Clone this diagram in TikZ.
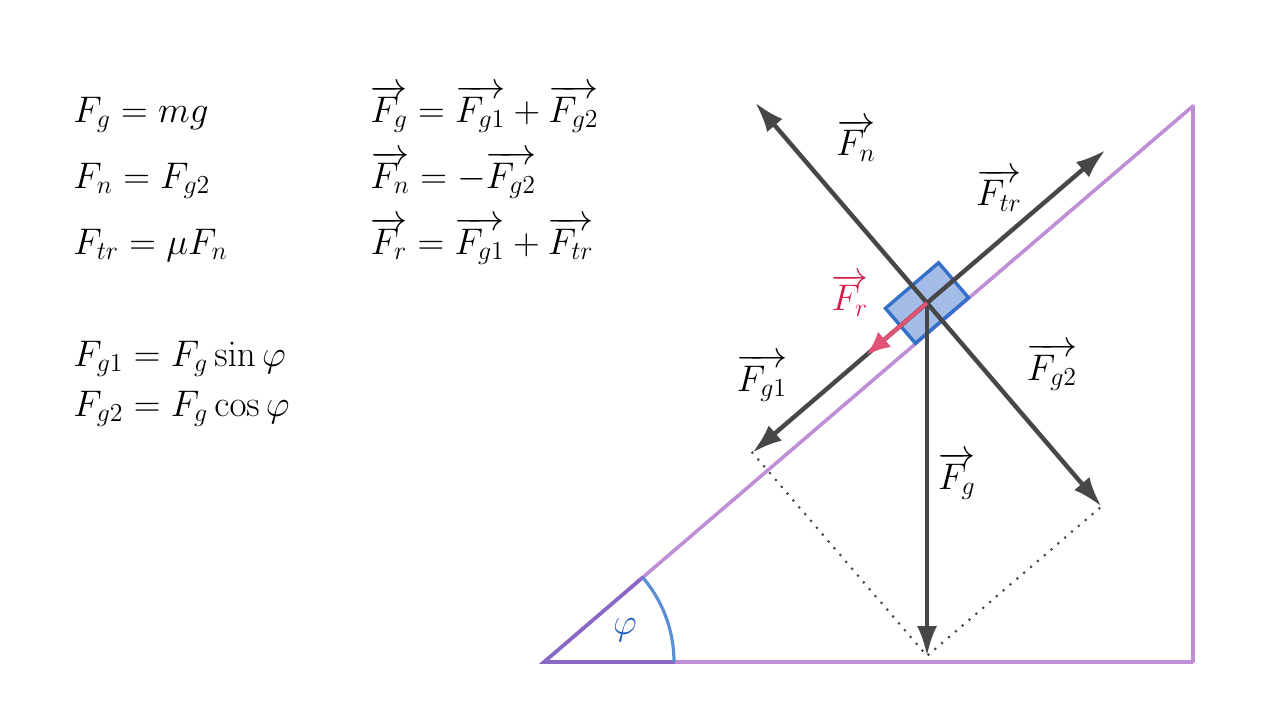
\RequirePackage{fix-cm}
\documentclass[tikz,border=0pt]{standalone}
\usepackage{tikz}
\usetikzlibrary{calc,arrows.meta}

\definecolor{slope}{HTML}{BF8FD6}
\definecolor{slopedark}{HTML}{8A68C6}
\definecolor{forcegray}{HTML}{474747}
\definecolor{boxfill}{HTML}{A3BDE8}
\definecolor{boxline}{HTML}{3570C8}
\definecolor{resultred}{HTML}{E25274}
\definecolor{resulttext}{HTML}{D81B4A}
\definecolor{anglecol}{HTML}{5A8FD6}
\definecolor{phicol}{HTML}{1F5FC0}

\def\ang{40.6}

\tikzset{
	force/.style={line width=2.2pt, color=forcegray, -{Latex[length=15pt,width=10pt]}},
	helper/.style={line width=1.5pt, color=forcegray, dash pattern=on 0pt off 4.5pt, line cap=round},
	incline/.style={line width=1.8pt, color=slope, line cap=round, line join=round},
	eq/.style={font=\fontsize{18.5}{22}\selectfont, inner sep=0pt, anchor=base west},
	lbl/.style={font=\fontsize{18.5}{22}\selectfont, inner sep=0pt}
}

\begin{document}
\begin{tikzpicture}[x=0.5pt, y=0.5pt]
		%%%%% START %%%%%
		
		\useasboundingbox (0, 0) rectangle (1280, 720);
		
		% formulas
		\node[eq] (eqg) at (73, 598) {$F_g = mg$};
		\node[eq] (eqn) at (73, 532) {$F_n = F_{g2}$};
		\node[eq] (eqtr) at (73, 466) {$F_{tr} = \mu F_n$};
		\node[eq] (eqga) at (73, 354) {$F_{g1} = F_g \sin\varphi$};
		\node[eq] (eqgb) at (73, 304) {$F_{g2} = F_g \cos\varphi$};
		
		\node[eq] (vecg) at (370, 598) {$\overrightarrow{F_g} = \overrightarrow{F_{g1}} + \overrightarrow{F_{g2}}$};
		\node[eq] (vecn) at (370, 532) {$\overrightarrow{F_n} = -\overrightarrow{F_{g2}}$};
		\node[eq] (vecr) at (370, 466) {$\overrightarrow{F_r} = \overrightarrow{F_{g1}} + \overrightarrow{F_{tr}}$};
		
		% inclined plane
		\coordinate (A) at (544, 58);
		\coordinate (B) at (1193, 58);
		\coordinate (C) at (1193, 614);
		\draw[incline] (A) -- (B) -- (C) -- cycle;
		
		% angle
		\draw[line width=1.8pt, color=slopedark, line cap=round] ($(A)+(\ang:130)$) -- (A) -- ($(A)+(130, 0)$);
		\draw[line width=1.6pt, color=anglecol] ($(A)+(130, 0)$) arc (0:\ang:130);
		\node[lbl, color=phicol] (phi) at (625, 90) {$\varphi$};
		
		% block
		\coordinate (O) at (927, 417);
		\node[draw=boxline, fill=boxfill, line width=1.7pt, minimum width=35pt, minimum height=23pt, inner sep=0pt, rotate=\ang] (box) at (O) {};
		
		% force tips
		\coordinate (tn) at ($(O)+(\ang+90:264)$);
		\coordinate (tgb) at ($(O)+(\ang-90:268)$);
		\coordinate (ttr) at ($(O)+(\ang:235)$);
		\coordinate (tga) at ($(O)+(\ang+180:230)$);
		\coordinate (tg) at ($(O)+(0, -353)$);
		\coordinate (tr) at ($(O)+(\ang+180:80)$);
		
		\draw[helper] (tga) -- (tg) -- (tgb);
		
		\draw[force] (O) -- (tn);
		\draw[force] (O) -- (tgb);
		\draw[force] (O) -- (ttr);
		\draw[force] (O) -- (tga);
		\draw[force] (O) -- (tg);
		\draw[force, color=resultred, line width=2pt, -{Latex[length=12pt,width=10pt]}] (O) -- (tr);
		
		% labels
		\node[lbl] (ln) at (856, 580) {$\overrightarrow{F_n}$};
		\node[lbl] (ltr) at (999, 530) {$\overrightarrow{F_{tr}}$};
		\node[lbl, color=resulttext] (lr) at (850, 425) {$\overrightarrow{F_r}$};
		\node[lbl] (lga) at (762, 342) {$\overrightarrow{F_{g1}}$};
		\node[lbl] (lgb) at (1052, 353) {$\overrightarrow{F_{g2}}$};
		\node[lbl] (lg) at (957, 244) {$\overrightarrow{F_g}$};
		
		%%%%% END %%%%%
	\end{tikzpicture}
\end{document}
